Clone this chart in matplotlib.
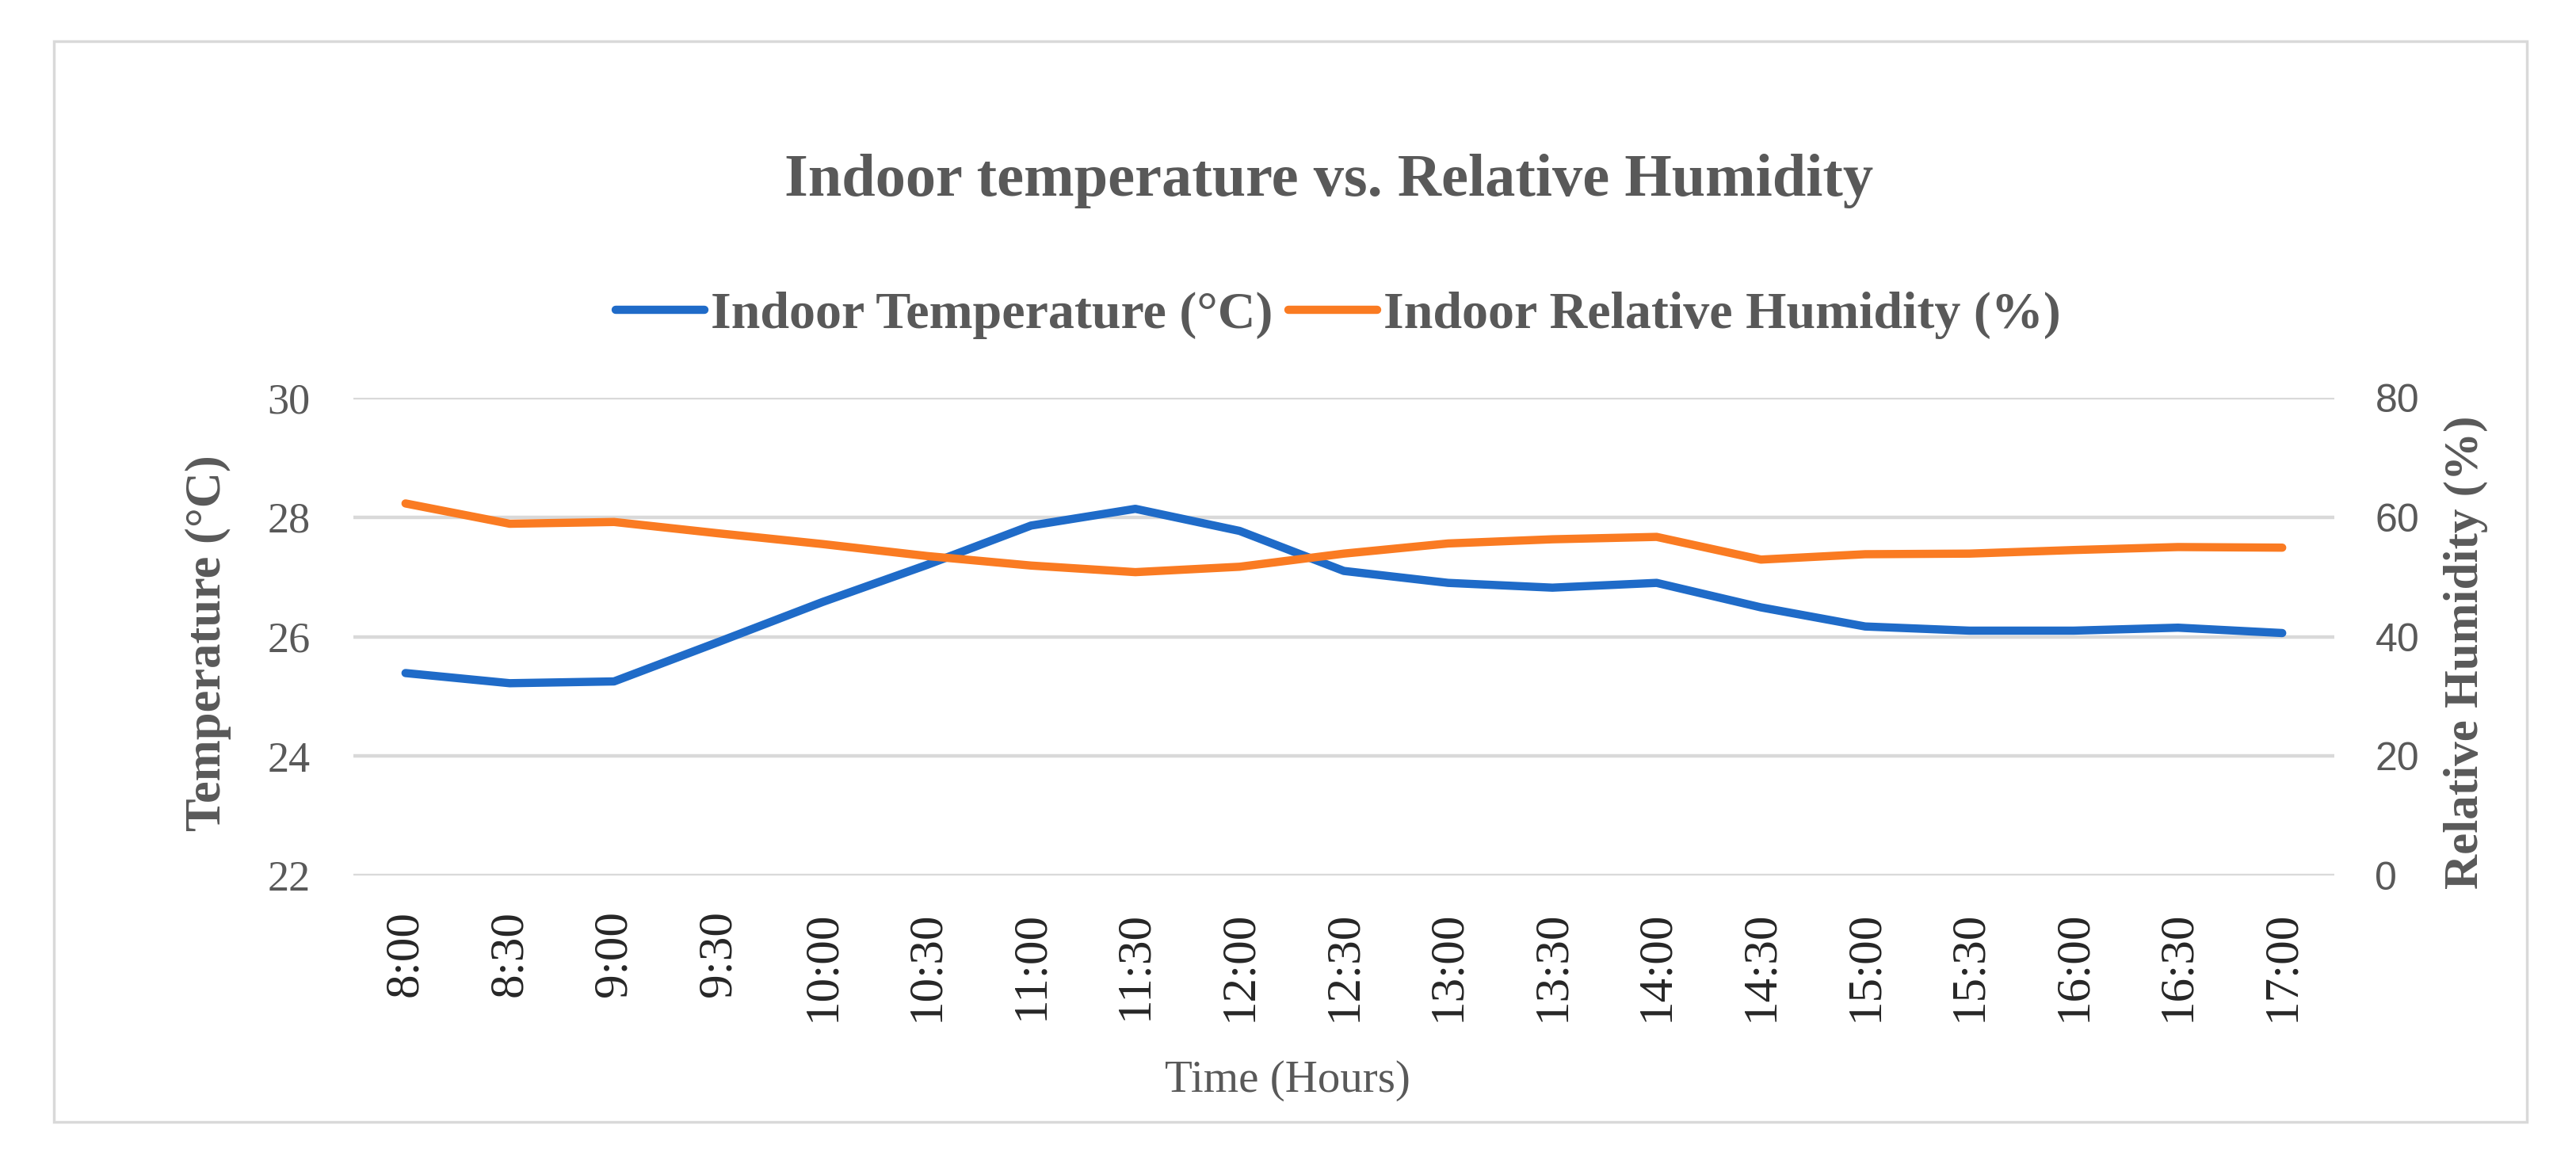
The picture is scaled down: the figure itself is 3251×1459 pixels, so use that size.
import matplotlib
matplotlib.use("Agg")
import matplotlib.pyplot as plt
from matplotlib.patches import Rectangle

times = ["8:00", "8:30", "9:00", "9:30", "10:00", "10:30", "11:00", "11:30", "12:00",
         "12:30", "13:00", "13:30", "14:00", "14:30", "15:00", "15:30", "16:00", "16:30", "17:00"]
temperature = [25.39, 25.22, 25.25, 25.91, 26.58, 27.20, 27.86, 28.14, 27.77,
               27.10, 26.90, 26.82, 26.90, 26.49, 26.17, 26.10, 26.10, 26.15, 26.06]
humidity = [62.3, 58.9, 59.2, 57.3, 55.5, 53.5, 51.9, 50.8, 51.7,
            53.9, 55.6, 56.3, 56.7, 52.9, 53.8, 53.9, 54.5, 55.0, 54.9]
temp_ticks = [22, 24, 26, 28, 30]
rh_ticks = [0, 20, 40, 60, 80]

BLUE = "#1F6BC8"
ORANGE = "#FA7B22"
GRAY = "#595959"
GRID = "#D9D9D9"
SERIF = ["Liberation Serif", "DejaVu Serif"]

W, H = 3251, 1459
fig = plt.figure(figsize=(W / 100, H / 100), dpi=100)
fig.patch.set_facecolor("white")

# outer chart border
fig.patches.append(Rectangle((68 / W, 1 - 1416 / H), (3189 - 68) / W, (1416 - 52) / H,
                             transform=fig.transFigure, fill=False,
                             edgecolor=GRID, linewidth=2.5))

ax = fig.add_axes([446 / W, 354 / H, 2500 / W, 603 / H])
ax2 = ax.twinx()

x = list(range(len(times)))
ax.plot(x, temperature, color=BLUE, lw=7.5, solid_capstyle="round",
        solid_joinstyle="round", label="Indoor Temperature (°C)", zorder=3)
ax2.plot(x, humidity, color=ORANGE, lw=7.5, solid_capstyle="round",
         solid_joinstyle="round", label="Indoor Relative Humidity (%)", zorder=3)

ax.set_xlim(-0.5, len(times) - 0.5)
ax.set_ylim(22, 30)
ax2.set_ylim(0, 80)
ax.set_yticks(temp_ticks)
ax2.set_yticks(rh_ticks)
ax.set_xticks(x)
ax.set_xticklabels(times, rotation=90, fontfamily=SERIF, fontsize=44, color="#262626")
ax.set_yticklabels([str(t) for t in temp_ticks], fontfamily=SERIF, fontsize=39, color=GRAY)
ax2.set_yticklabels([str(t) for t in rh_ticks], fontfamily="Liberation Sans", fontsize=36, color=GRAY)

ax.tick_params(axis="x", length=0, pad=32)
ax.tick_params(axis="y", length=0, pad=39)
ax2.tick_params(axis="y", length=0, pad=37)

ax.grid(axis="y", color=GRID, lw=3.2)
ax.set_axisbelow(True)
for a in (ax, ax2):
    for s in a.spines.values():
        s.set_visible(False)

# texts
fig.text(1677 / W, 1 - 247 / H, "Indoor temperature vs. Relative Humidity",
         ha="center", va="baseline", fontfamily=SERIF, fontsize=55,
         fontweight="bold", color=GRAY)
fig.text(263 / W, 1 - 812 / H, "Temperature (°C)", rotation=90, ha="center", va="center",
         fontfamily=SERIF, fontsize=45, fontweight="bold", color=GRAY)
fig.text(3112 / W, 1 - 823 / H, "Relative Humidity (%)", rotation=90, ha="center", va="center",
         fontfamily=SERIF, fontsize=44, fontweight="bold", color=GRAY)
fig.text(1625 / W, 1 - 1378 / H, "Time (Hours)", ha="center", va="baseline",
         fontfamily=SERIF, fontsize=41, color=GRAY)

h1, l1 = ax.get_legend_handles_labels()
h2, l2 = ax2.get_legend_handles_labels()
leg = fig.legend(h1 + h2, l1 + l2, loc="center", bbox_to_anchor=(1689 / W, 1 - 398 / H),
                 ncol=2, frameon=False, handlelength=1.7, handletextpad=0.12,
                 columnspacing=0.3, prop={"family": SERIF, "size": 47.5, "weight": "bold"})
for t in leg.get_texts():
    t.set_color(GRAY)

fig.savefig("out.png", dpi=100, facecolor="white")
